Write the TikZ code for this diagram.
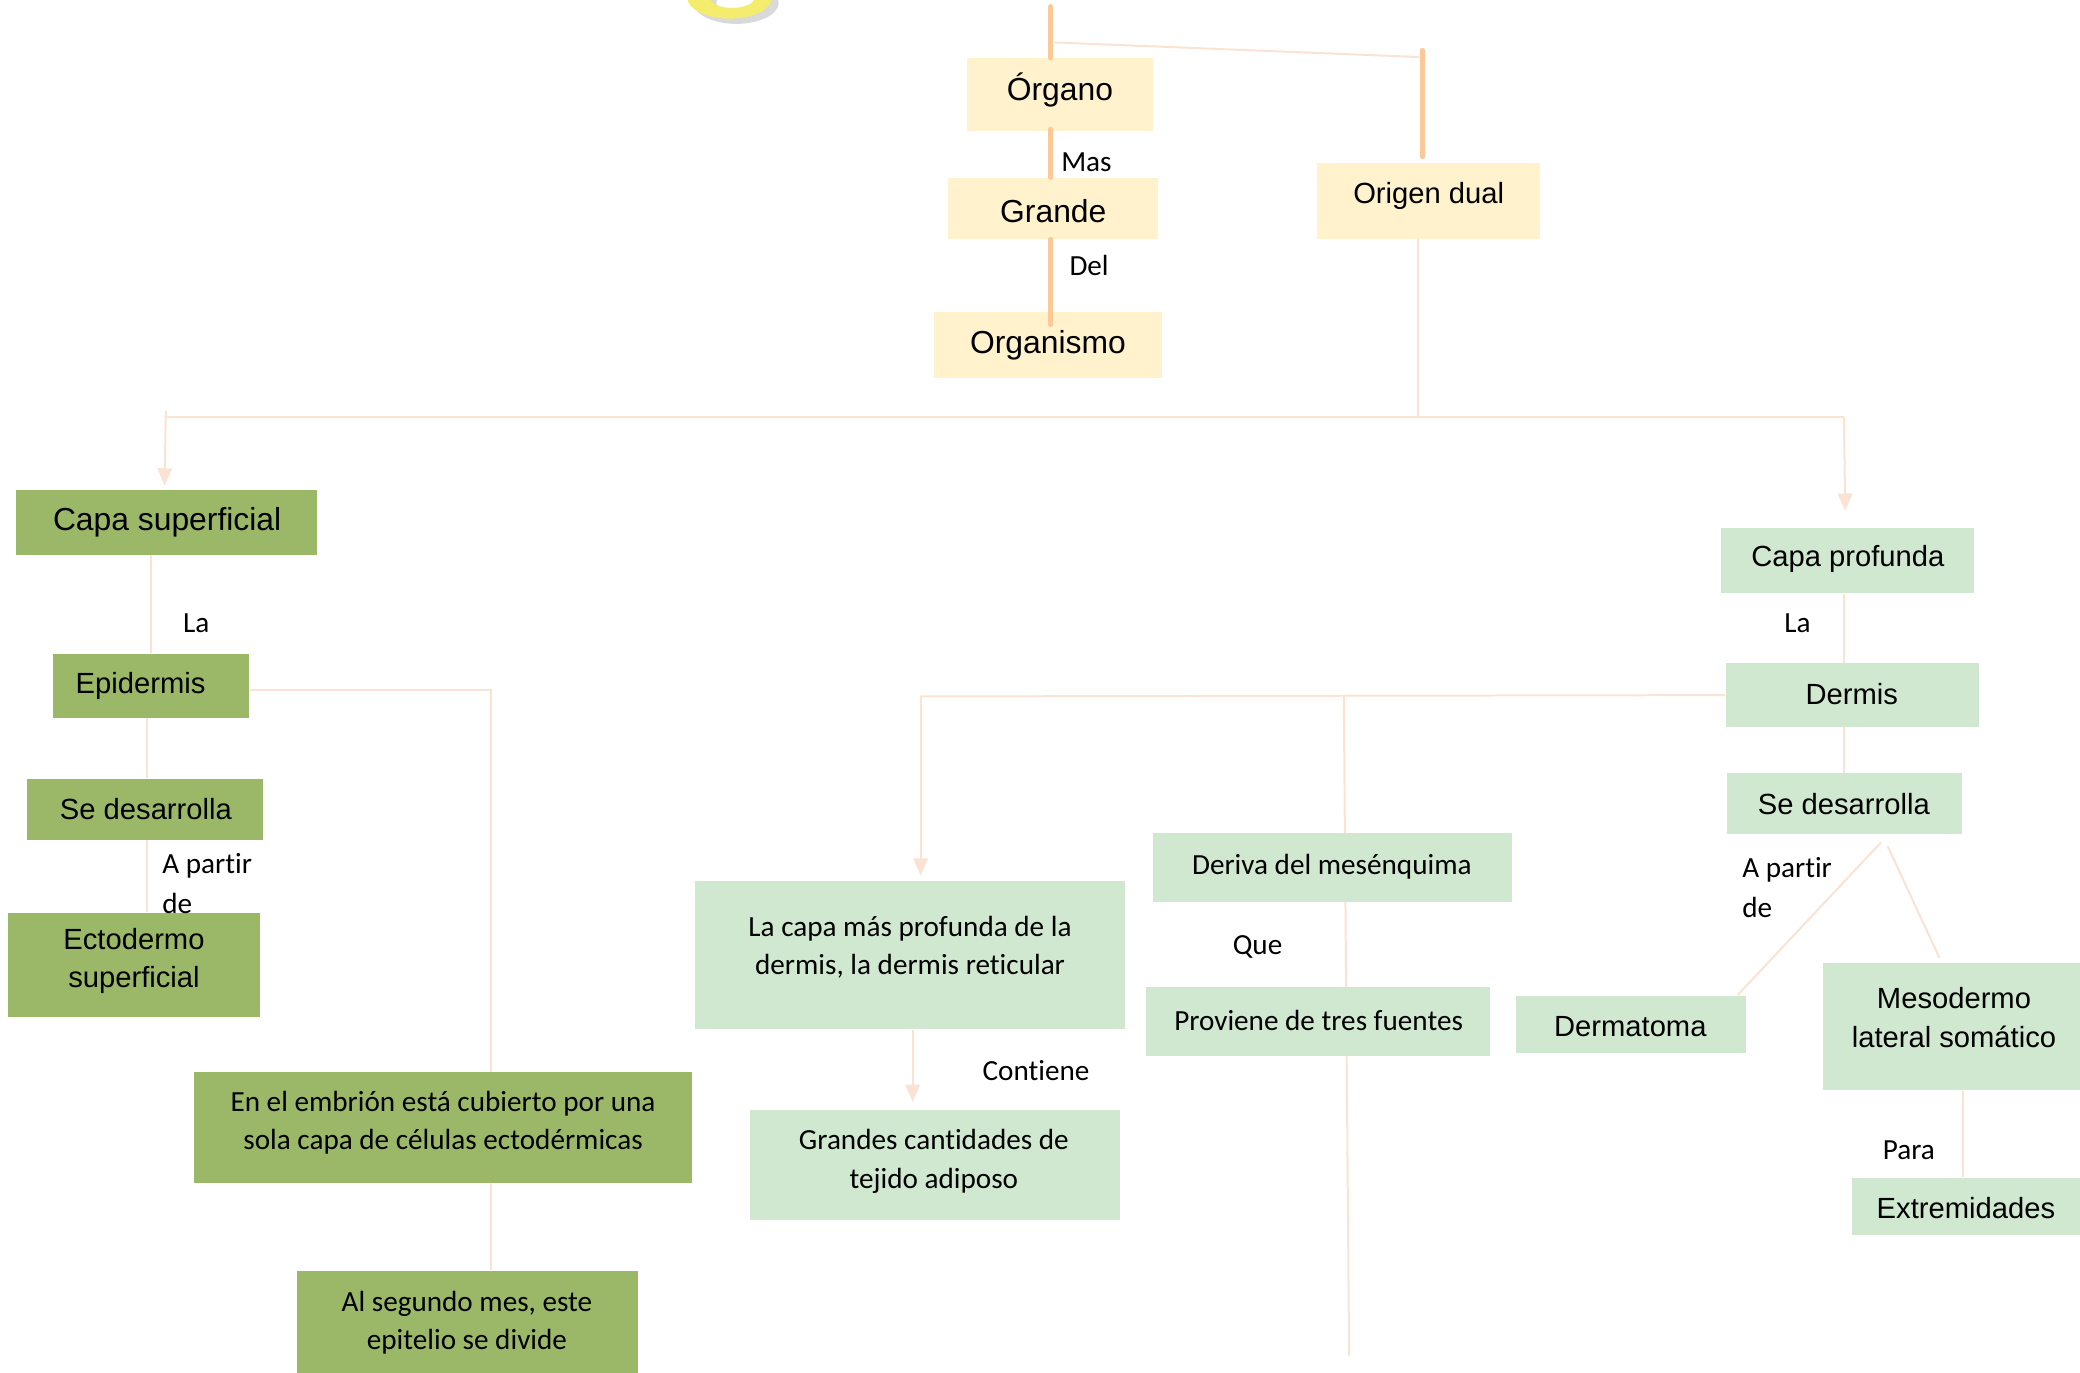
\documentclass[tikz,border=0pt]{standalone}
\usepackage{fontspec}
\setmainfont{Liberation Sans}
\newfontfamily\calib[Ligatures=NoCommon]{Carlito}
\usetikzlibrary{fit,arrows.meta}
\definecolor{ybox}{HTML}{FFF2CC}
\definecolor{dgreen}{HTML}{9BB869}
\definecolor{lgreen}{HTML}{CFE8CF}
\definecolor{orgln}{HTML}{FBC896}
\definecolor{thinc}{HTML}{FBE3D3}
\definecolor{ringy}{HTML}{F4EC6C}
\definecolor{ringg}{HTML}{D9D9D9}
\pgfdeclarelayer{back}
\pgfdeclarelayer{bg}
\pgfsetlayers{back,bg,main}
\tikzset{
  boxbase/.style={inner sep=0pt, draw=none},
  ybx/.style={boxbase, fill=ybox},
  dgbx/.style={boxbase, fill=dgreen},
  lgbx/.style={boxbase, fill=lgreen},
  atxt/.style={font=\fontsize{11}{14.5}\selectfont, align=center, inner sep=0pt, text=black, yshift=-1pt},
  abig/.style={font=\fontsize{12}{15}\selectfont, align=center, inner sep=0pt, text=black, yshift=-1pt},
  ctxt/.style={font=\calib\fontsize{11}{14.5}\selectfont, align=center, inner sep=0pt, text=black, yshift=-1pt},
  lbl/.style={font=\calib\fontsize{11}{15}\selectfont, inner sep=0pt, text=black, yshift=-0.5pt},
  thk/.style={draw=orgln, line width=1.9pt, line cap=round},
  thn/.style={draw=thinc, line width=0.75pt},
  arr/.style={thn, -{Triangle[width=5.5pt,length=6.5pt]}},
}
\begin{document}
\begin{tikzpicture}[x=0.5pt,y=-0.5pt]
\useasboundingbox (0,0) rectangle (1568,1035);
\begin{pgfonlayer}{back}
\fill[white] (0,0) rectangle (1568,1035);
\end{pgfonlayer}

% yellow ring fragment (top)
\begin{scope}
\clip (0,0) rectangle (1568,40);
\fill[ringg, even odd rule] (555,2) ellipse [x radius=32, y radius=16] (557,2) ellipse [x radius=17, y radius=8];
\fill[ringy, even odd rule] (550,-2) ellipse [x radius=32, y radius=16] (552,-2) ellipse [x radius=17, y radius=8];
\end{scope}

% boxes
\node[ybx, fit={(729,44)(869,99)}] (org) {};
\node[ybx, fit={(715,134)(873,180)}] (gra) {};
\node[ybx, fit={(704,235)(876,285)}] (orgm) {};
\node[ybx, fit={(993,123)(1161,180)}] (od) {};

\node[dgbx, fit={(12,369)(239,418)}] (cs) {};
\node[dgbx, fit={(40,493)(188,541)}] (epi) {};
\node[dgbx, fit={(20,587)(198,633)}] (sd1) {};
\node[dgbx, fit={(6,688)(196,767)}] (ecto) {};
\node[dgbx, fit={(146,808)(522,892)}] (emb) {};
\node[dgbx, fit={(224,958)(481,1035)}] (seg) {};

\node[lgbx, fit={(1297,398)(1488,447)}] (cp) {};
\node[lgbx, fit={(1301,500)(1492,548)}] (der) {};
\node[lgbx, fit={(1302,583)(1479,629)}] (sd2) {};
\node[lgbx, fit={(524,664)(848,776)}] (lcp) {};
\node[lgbx, fit={(565,837)(844,920)}] (gc) {};
\node[lgbx, fit={(869,628)(1140,680)}] (dm) {};
\node[lgbx, fit={(864,744)(1123,796)}] (pv) {};
\node[lgbx, fit={(1143,751)(1316,794)}] (dmt) {};
\node[lgbx, fit={(1374,726)(1568,822)}] (mes) {};
\node[lgbx, fit={(1396,888)(1568,931)}] (ext) {};

% coordinates
\coordinate (x792) at (792,0);
\coordinate (top1) at (792,5);
\coordinate (j1) at (795,32);
\coordinate (j2) at (1070,43);
\coordinate (top2) at (1072,38);
\coordinate (odin) at (1072,118);
\coordinate (odx) at (1069,0);
\coordinate (hL) at (125,314);
\coordinate (hLt) at (125,310);
\coordinate (hR) at (1390,314);
\coordinate (hM) at (1069,314);
\coordinate (aL) at (124,366);
\coordinate (aR) at (1391,385);
\coordinate (c370) at (370,520);
\coordinate (dl) at (694,525);
\coordinate (aD) at (694,660);
\coordinate (mj) at (1013,525);
\coordinate (mend) at (1017,1022);
\coordinate (x688) at (688,0);
\coordinate (x1390) at (1390,0);
\coordinate (s1) at (1418,635);
\coordinate (s2) at (1310,750);
\coordinate (m1) at (1423,638);
\coordinate (m2) at (1462,722);
\coordinate (x1480) at (1480,0);
\coordinate (x114) at (114,0);
\coordinate (x111) at (111,0);

% thin connectors (behind boxes)
\begin{pgfonlayer}{bg}
\draw[thn] (j1) -- (j2);
\draw[thn] (od.south -| odx) -- (hM);
\draw[thn] (hL) -- (hR);
\draw[arr] (hLt) -- (aL);
\draw[arr] (hR) -- (aR);
\draw[thn] (cs.south -| x114) -- (epi.north -| x114);
\draw[thn] (epi.east |- c370) -- (c370) -- (c370 |- seg.north);
\draw[thn] (epi.south -| x111) -- (sd1.north -| x111);
\draw[thn] (sd1.south -| x111) -- (ecto.north -| x111);
\draw[thn] (der.west) -- (dl);
\draw[arr] (dl) -- (aD);
\draw[thn] (mj) -- (mend);
\draw[arr, shorten >=3pt] (lcp.south -| x688) -- (gc.north -| x688);
\draw[thn] (cp.south -| x1390) -- (der.north -| x1390);
\draw[thn] (der.south -| x1390) -- (sd2.north -| x1390);
\draw[thn] (s1) -- (s2);
\draw[thn] (m1) -- (m2);
\draw[thn] (mes.south -| x1480) -- (ext.north -| x1480);
\end{pgfonlayer}

% thick connectors (top part)
\draw[thk] (top1) -- (org.north -| x792);
\draw[thk] (top2) -- (odin);
\draw[thk] ([yshift=1pt]org.south -| x792) -- (gra.north -| x792);
\draw[thk] (gra.south -| x792) -- ([yshift=-5pt]orgm.north -| x792);

% box texts
\node[abig] (org-t) at (799,66) {Órgano};
\node[abig] (gra-t) at (794,157) {Grande};
\node[abig] (orgm-t) at (790,258) {Organismo};
\node[atxt] (od-t) at (1077,146) {Origen dual};
\node[abig] (cs-t) at (126,392) {Capa superficial};
\node[atxt] (epi-t) at (106,515) {Epidermis};
\node[atxt] (sd1-t) at (110,608) {Se desarrolla};
\node[atxt] (ecto-t) at (101,722.5) {Ectodermo\\superficial};
\node[ctxt] (emb-t) at (334,844.5) {En el embrión está cubierto por una\\sola capa de células ectodérmicas};
\node[ctxt] (seg-t) at (352,995) {Al segundo mes, este\\epitelio se divide};
\node[atxt] (cp-t) at (1393,419) {Capa profunda};
\node[atxt] (der-t) at (1396,521) {Dermis};
\node[atxt] (sd2-t) at (1390,604) {Se desarrolla};
\node[ctxt] (lcp-t) at (686,712) {La capa más profunda de la\\dermis, la dermis reticular};
\node[ctxt] (gc-t) at (704,873.5) {Grandes cantidades de\\tejido adiposo};
\node[ctxt] (dm-t) at (1004,651) {Deriva del mesénquima};
\node[ctxt] (pv-t) at (994,767) {Proviene de tres fuentes};
\node[atxt] (dmt-t) at (1229,772) {Dermatoma};
\node[atxt] (mes-t) at (1473,765) {Mesodermo\\lateral somático};
\node[atxt] (ext-t) at (1482,909) {Extremidades};

% connector labels
\node[lbl] (l-mas) at (819,121) {Mas};
\node[lbl] (l-del) at (821,199) {Del};
\node[lbl] (l-la1) at (148,469) {La};
\node[lbl, anchor=west, align=left] (l-ap1) at (122,665) {A partir\\de};
\node[lbl] (l-cont) at (781,806) {Contiene};
\node[lbl] (l-que) at (948,713) {Que};
\node[lbl] (l-la2) at (1355,469) {La};
\node[lbl, anchor=west, align=left] (l-ap2) at (1313,668) {A partir\\de};
\node[lbl] (l-para) at (1439,866) {Para};
\end{tikzpicture}
\end{document}
